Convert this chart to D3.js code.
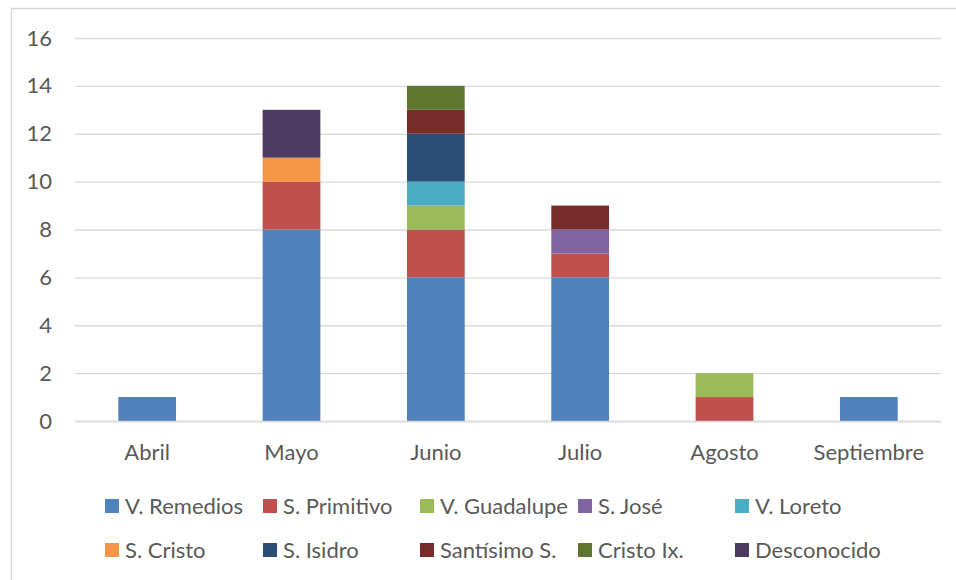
<!DOCTYPE html>
<html><head><meta charset="utf-8">
<script src="https://cdn.jsdelivr.net/npm/d3@7"></script>
<style>body{margin:0;background:#fff}svg{display:block}</style>
</head><body>
<svg id="c" width="956" height="580"></svg>
<script>
const months = ["Abril","Mayo","Junio","Julio","Agosto","Septiembre"];
const seriesNames = ["V. Remedios","S. Primitivo","V. Guadalupe","S. José","V. Loreto","S. Cristo","S. Isidro","Santísimo S.","Cristo Ix.","Desconocido"];
const vRemedios   = [1,8,6,6,0,1];
const sPrimitivo  = [0,2,2,1,1,0];
const vGuadalupe  = [0,0,1,0,1,0];
const sJose       = [0,0,0,1,0,0];
const vLoreto     = [0,0,1,0,0,0];
const sCristo     = [0,1,0,0,0,0];
const sIsidro     = [0,0,2,0,0,0];
const santisimo   = [0,0,1,1,0,0];
const cristoIx    = [0,0,1,0,0,0];
const desconocido = [0,2,0,0,0,0];
const yTicks = [0,2,4,6,8,10,12,14,16];
const colors = ["#4F81BD","#C0504D","#9BBB59","#8064A2","#4BACC6","#F79646","#2C4D75","#772C2A","#5F7530","#4D3B62"];

const seriesValues = [vRemedios,sPrimitivo,vGuadalupe,sJose,vLoreto,sCristo,sIsidro,santisimo,cristoIx,desconocido];
const table = months.map((m,i)=>{const r={month:m};seriesNames.forEach((s,j)=>r[s]=seriesValues[j][i]);return r;});
const stacked = d3.stack().keys(seriesNames)(table);

const svg = d3.select("#c");
const font = "Lato, 'Open Sans', sans-serif";
const fs = "22px";
const txt = "#595959";
svg.append("rect").attr("x",11.5).attr("y",8.5).attr("width",960).attr("height",600)
  .attr("fill","none").attr("stroke","#d9d9d9").attr("stroke-width",1.5);

const x = d3.scaleBand().domain(months).range([75,941]).paddingInner(0.6).paddingOuter(0.3);
const y = d3.scaleLinear().domain([0,16]).range([421,38]);

const yAxis = svg.append("g").attr("transform","translate(75,0)")
  .call(d3.axisLeft(y).tickValues(yTicks).tickSize(-866).tickPadding(23));
yAxis.select(".domain").remove();
yAxis.selectAll(".tick line").attr("stroke","#d9d9d9").attr("stroke-width",1.3);
yAxis.selectAll(".tick text").attr("fill",txt).style("font-family",font).style("font-size",fs);

svg.append("g").selectAll("g").data(stacked).join("g").attr("fill",(d,i)=>colors[i])
  .selectAll("rect").data(d=>d).join("rect")
  .attr("x",d=>x(d.data.month)).attr("width",x.bandwidth())
  .attr("y",d=>y(d[1])).attr("height",d=>y(d[0])-y(d[1]));

const xAxis = svg.append("g").attr("transform","translate(0,421)")
  .call(d3.axisBottom(x).tickSize(0).tickPadding(23));
xAxis.select(".domain").attr("stroke","#d9d9d9").attr("stroke-width",1.3);
xAxis.selectAll(".tick text").attr("fill",txt).style("font-family",font).style("font-size",fs);

const legX = [105,263,420,578,735];
const legY = [506,550];
const leg = svg.append("g").selectAll("g").data(seriesNames).join("g")
  .attr("transform",(d,i)=>`translate(${legX[i%5]},${legY[Math.floor(i/5)]})`);
leg.append("rect").attr("x",0).attr("y",-7).attr("width",14).attr("height",14).attr("fill",(d,i)=>colors[i]);
leg.append("text").attr("x",20).attr("dy","0.35em").text(d=>d).attr("fill",txt)
  .style("font-family",font).style("font-size",fs);
</script>
</body></html>
